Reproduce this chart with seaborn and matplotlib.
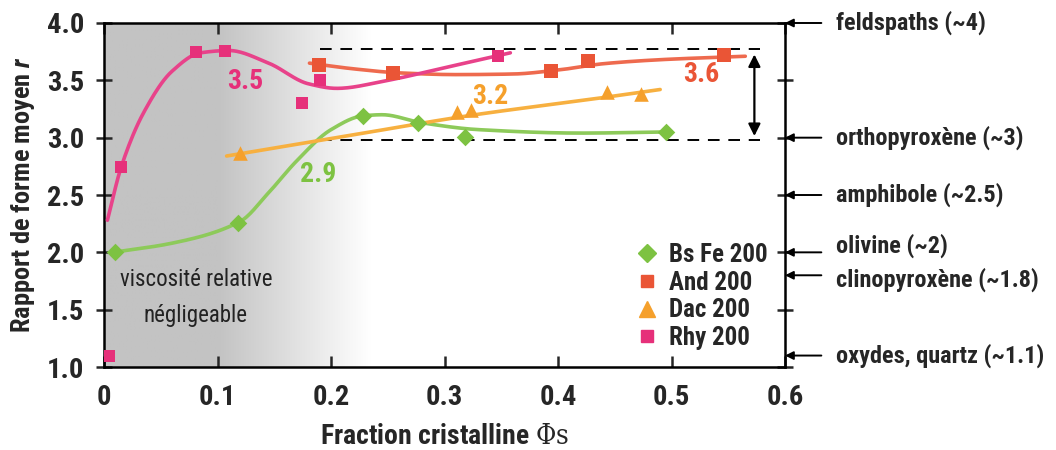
import numpy as np
import matplotlib
matplotlib.use("Agg")
import matplotlib.pyplot as plt
from matplotlib import font_manager as fm
from matplotlib.lines import Line2D
from matplotlib.colors import LinearSegmentedColormap
import seaborn as sns

# ---- measured points --------------------------------------------------------
bsfe_x = [0.010, 0.118, 0.228, 0.277, 0.318, 0.495]
bsfe_y = [2.00, 2.26, 3.19, 3.13, 3.01, 3.05]

and_x = [0.189, 0.255, 0.394, 0.426, 0.546]
and_y = [3.63, 3.56, 3.58, 3.67, 3.72]

dac_x = [0.120, 0.311, 0.323, 0.443, 0.473]
dac_y = [2.87, 3.22, 3.24, 3.40, 3.38]

rhy_x = [0.004, 0.015, 0.081, 0.107, 0.174, 0.190, 0.347]
rhy_y = [1.10, 2.74, 3.75, 3.76, 3.30, 3.50, 3.71]

# ---- hand-drawn trend curves ------------------------------------------------
bsfe_fit_x = [0.008, 0.060, 0.120, 0.145, 0.170, 0.200, 0.228, 0.245, 0.280, 0.330, 0.420, 0.496]
bsfe_fit_y = [2.00, 2.08, 2.27, 2.52, 2.80, 3.07, 3.19, 3.20, 3.13, 3.07, 3.04, 3.05]

and_fit_x = [0.181, 0.220, 0.260, 0.310, 0.360, 0.400, 0.440, 0.490, 0.565]
and_fit_y = [3.65, 3.60, 3.565, 3.55, 3.555, 3.59, 3.645, 3.68, 3.71]

dac_fit_x = [0.108, 0.217, 0.320, 0.440, 0.490]
dac_fit_y = [2.84, 3.02, 3.19, 3.35, 3.42]

rhy_fit_x = [0.003, 0.015, 0.035, 0.060, 0.085, 0.110, 0.145, 0.180, 0.205, 0.250, 0.300, 0.358]
rhy_fit_y = [2.28, 2.74, 3.22, 3.58, 3.74, 3.76, 3.65, 3.47, 3.43, 3.50, 3.61, 3.74]

# mean aspect ratio written next to each curve
mean_labels = ["2.9", "3.6", "3.2", "3.5"]
mean_label_x = [0.189, 0.526, 0.340, 0.124]
mean_label_y = [2.68, 3.55, 3.36, 3.49]

# reference aspect ratios of common minerals
minerals = ["feldspaths (~4)", "orthopyroxène (~3)", "amphibole (~2.5)",
            "olivine (~2)", "clinopyroxène (~1.8)", "oxydes, quartz (~1.1)"]
mineral_r = [4.0, 3.0, 2.5, 2.0, 1.8, 1.1]
mineral_dy = [0, 0, 0, 5, -3, 0]

band_low, band_high = 2.98, 3.77

series = ["Bs Fe 200", "And 200", "Dac 200", "Rhy 200"]
colors = ["#7dc242", "#ea5536", "#f5a02c", "#e6307a"]
line_colors = ["#8dca5a", "#ee6a4e", "#f7b040", "#e8428a"]
markers = ["D", "s", "^", "s"]
msizes = [80, 95, 110, 85]

# ---- style ------------------------------------------------------------------
sns.set_theme(style="white")
available = {f.name for f in fm.fontManager.ttflist}
narrow = [n for n in ["Liberation Sans Narrow", "Arial Narrow", "Roboto Condensed",
                      "Open Sans Condensed", "Noto Sans Condensed",
                      "DejaVu Sans Condensed"] if n in available]
FONT = narrow[:1] + ["Liberation Sans", "DejaVu Sans"]
STRETCH = "condensed"
plt.rcParams["font.family"] = FONT
plt.rcParams["font.stretch"] = STRETCH
plt.rcParams["mathtext.fontset"] = "custom"
plt.rcParams["mathtext.it"] = FONT[0] + ":italic:bold"
plt.rcParams["mathtext.rm"] = "DejaVu Serif"

fig = plt.figure(figsize=(10.56, 4.5), dpi=100)
ax = fig.add_axes([0.0985, 0.1844, 0.6449, 0.7645])
ax.set_xlim(0, 0.6)
ax.set_ylim(1.0, 4.0)

# grey zone of negligible relative viscosity, fading to white
xs = np.linspace(0, 0.6, 512)
grad = np.clip((xs - 0.10) / (0.235 - 0.10), 0, 1)
cmap = LinearSegmentedColormap.from_list("fade", ["#c3c3c3", "#ffffff"])
ax.imshow(grad[np.newaxis, :], extent=[0, 0.6, 1.0, 4.0], aspect="auto",
          cmap=cmap, vmin=0, vmax=1, zorder=0, interpolation="bilinear")


def pchip(xk, yk, n=300):
    """Shape-preserving cubic Hermite curve through the knots."""
    x = np.asarray(xk, float)
    y = np.asarray(yk, float)
    h = np.diff(x)
    delta = np.diff(y) / h
    d = np.zeros_like(y)
    for i in range(1, len(x) - 1):
        if delta[i - 1] * delta[i] > 0:
            w1 = 2 * h[i] + h[i - 1]
            w2 = h[i] + 2 * h[i - 1]
            d[i] = (w1 + w2) / (w1 / delta[i - 1] + w2 / delta[i])
    d[0] = delta[0]
    d[-1] = delta[-1]
    xx = np.linspace(x[0], x[-1], n)
    idx = np.clip(np.searchsorted(x, xx) - 1, 0, len(x) - 2)
    hh = h[idx]
    t = (xx - x[idx]) / hh
    h00 = 2 * t ** 3 - 3 * t ** 2 + 1
    h10 = t ** 3 - 2 * t ** 2 + t
    h01 = -2 * t ** 3 + 3 * t ** 2
    h11 = t ** 3 - t ** 2
    yy = (h00 * y[idx] + h10 * hh * d[idx] + h01 * y[idx + 1]
          + h11 * hh * d[idx + 1])
    return xx, yy


fits = [(bsfe_fit_x, bsfe_fit_y), (and_fit_x, and_fit_y),
        (dac_fit_x, dac_fit_y), (rhy_fit_x, rhy_fit_y)]
pts = [(bsfe_x, bsfe_y), (and_x, and_y), (dac_x, dac_y), (rhy_x, rhy_y)]

for (fx, fy), c in zip(fits, line_colors):
    cx, cy = pchip(fx, fy)
    sns.lineplot(x=cx, y=cy, sort=False, estimator=None, color=c, lw=2.6, ax=ax,
                 zorder=3)

for (px, py), c, m, s in zip(pts, colors, markers, msizes):
    sns.scatterplot(x=px, y=py, color=c, marker=m, s=s, linewidth=0, ax=ax,
                    zorder=4)

for lab, lx, ly, c in zip(mean_labels, mean_label_x, mean_label_y, colors):
    ax.text(lx, ly, lab, color=c, fontsize=20, fontweight="bold",
            ha="center", va="center", zorder=5)

# range band of average aspect ratios
for yv in (band_low, band_high):
    ax.plot([0.19, 0.578], [yv, yv], color="black", lw=1.4,
            dashes=(6, 4.5), zorder=2)
ax.annotate("", xy=(0.573, band_high - 0.02), xytext=(0.573, band_low + 0.01),
            arrowprops=dict(arrowstyle="<|-|>", color="black", lw=1.6,
                            mutation_scale=18), zorder=5)

ax.text(0.081, 1.76, "viscosité relative", fontsize=16.5, ha="center", va="center",
        color="#222222")
ax.text(0.081, 1.45, "négligeable", fontsize=16.5, ha="center", va="center",
        color="#222222")

# mineral references on the right-hand axis
for name, r, dy in zip(minerals, mineral_r, mineral_dy):
    ax.annotate("", xy=(0.600, r), xytext=(0.632, r),
                arrowprops=dict(arrowstyle="-|>", color="black", lw=1.4,
                                mutation_scale=12, shrinkA=0, shrinkB=0),
                annotation_clip=False)
    ax.annotate(name, xy=(0.645, r), xytext=(0, dy), textcoords="offset points",
                fontsize=17.5, fontweight="bold", ha="left", va="center",
                annotation_clip=False)

# axes frame and ticks
for sp in ax.spines.values():
    sp.set_visible(True)
    sp.set_color("black")
    sp.set_linewidth(1.8)
ax.set_xticks([0, 0.1, 0.2, 0.3, 0.4, 0.5, 0.6])
ax.set_xticklabels(["0", "0.1", "0.2", "0.3", "0.4", "0.5", "0.6"])
ax.set_yticks([1.0, 1.5, 2.0, 2.5, 3.0, 3.5, 4.0])
ax.set_yticklabels(["1.0", "1.5", "2.0", "2.5", "3.0", "3.5", "4.0"])
ax.tick_params(axis="x", which="both", bottom=True, top=True, direction="in",
               length=8, width=1.8, labelsize=20.5, pad=12)
ax.tick_params(axis="y", which="both", left=True, right=True, direction="inout",
               length=12, width=1.8, labelsize=20.5, pad=8)
for t in ax.get_xticklabels() + ax.get_yticklabels():
    t.set_fontweight("bold")

ax.set_xlabel(r"Fraction cristalline $\mathrm{\Phi s}$", fontsize=20,
              fontweight="bold", labelpad=9)
ax.set_ylabel(r"Rapport de forme moyen $\mathit{r}$", fontsize=19,
              fontweight="bold", labelpad=7)

handles = [Line2D([], [], ls="none", marker=m, color=c,
                  markersize=(11 if m == "^" else 9))
           for m, c in zip(markers, colors)]
leg = ax.legend(handles, series, loc="lower left", bbox_to_anchor=(0.76, 0.02),
                frameon=False,
                prop=dict(family=FONT, weight="bold", size=18, stretch=STRETCH),
                handletextpad=0.3, labelspacing=0.15, handlelength=1.2,
                borderaxespad=0)

fig.savefig("out.png", dpi=100)
